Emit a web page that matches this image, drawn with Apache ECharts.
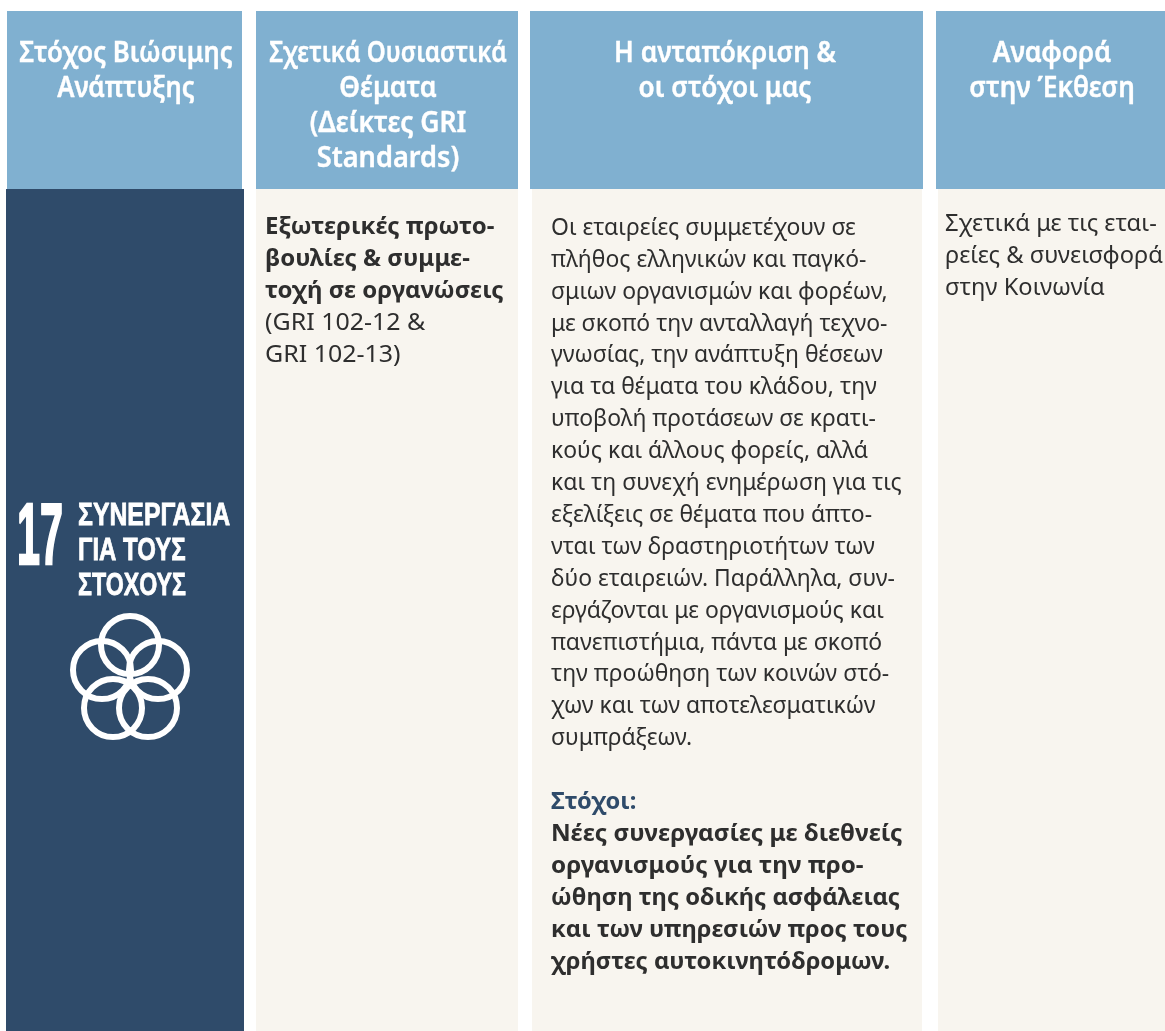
<!DOCTYPE html>
<html>
<head>
<meta charset="utf-8">
<style>html,body{margin:0;padding:0;background:#fff}#main{width:1165px;height:1031px}</style>
<script src="https://cdn.jsdelivr.net/npm/echarts@6/dist/echarts.min.js"></script>
</head>
<body>
<div id="main"></div>
<script>
var headCol1 = ['Στόχος Βιώσιμης', 'Ανάπτυξης'];
var headCol2 = ['Σχετικά Ουσιαστικά', 'Θέματα', '(Δείκτες GRI', 'Standards)'];
var headCol3 = ['Η ανταπόκριση &', 'οι στόχοι μας'];
var headCol4 = ['Αναφορά', 'στην Έκθεση'];
var sdgNumber = '17';
var sdgTitle = ['ΣΥΝΕΡΓΑΣΙΑ', 'ΓΙΑ ΤΟΥΣ', 'ΣΤΟΧΟΥΣ'];
var topicBold = ['Εξωτερικές πρωτο-', 'βουλίες & συμμε-', 'τοχή σε οργανώσεις'];
var topicNormal = ['(GRI 102-12 &', 'GRI 102-13)'];
var responseText = ['Οι εταιρείες συμμετέχουν σε', 'πλήθος ελληνικών και παγκό-', 'σμιων οργανισμών και φορέων,',
	'με σκοπό την ανταλλαγή τεχνο-', 'γνωσίας, την ανάπτυξη θέσεων', 'για τα θέματα του κλάδου, την',
	'υποβολή προτάσεων σε κρατι-', 'κούς και άλλους φορείς, αλλά', 'και τη συνεχή ενημέρωση για τις',
	'εξελίξεις σε θέματα που άπτο-', 'νται των δραστηριοτήτων των', 'δύο εταιρειών. Παράλληλα, συν-',
	'εργάζονται με οργανισμούς και', 'πανεπιστήμια, πάντα με σκοπό', 'την προώθηση των κοινών στό-',
	'χων και των αποτελεσματικών', 'συμπράξεων.'];
var goalsLabel = ['Στόχοι:'];
var goalsText = ['Νέες συνεργασίες με διεθνείς', 'οργανισμούς για την προ-', 'ώθηση της οδικής ασφάλειας',
	'και των υπηρεσιών προς τους', 'χρήστες αυτοκινητόδρομων.'];
var reportText = ['Σχετικά με τις εται-', 'ρείες & συνεισφορά', 'στην Κοινωνία'];

var headColor = '#80b0d0', darkColor = '#2f4b6a', paperColor = '#f8f5ef', inkColor = '#2e2e2e';
var sans = '"Noto Sans", sans-serif';
var narrow = '"Liberation Sans Narrow", "Liberation Sans", sans-serif';
var els = [];

function rect(x, y, w, h, fill) {
	els.push({ type: 'rect', shape: { x: x, y: y, width: w, height: h }, style: { fill: fill }, silent: true });
}
function lines(list, x, y, step, o) {
	list.forEach(function (t, i) {
		els.push({
			type: 'text', x: x, y: y + i * step, scaleX: o.sxs ? o.sxs[i] : (o.sx || 1), silent: true,
			style: {
				text: t, fill: o.color, font: (o.weight || 400) + ' ' + o.size + 'px ' + (o.family || sans),
				textAlign: o.align || 'left', textVerticalAlign: 'middle',
				stroke: o.bold ? o.color : null, lineWidth: o.bold || 0
			}
		});
	});
}
function ring(cx, cy) {
	els.push({ type: 'circle', shape: { cx: cx, cy: cy, r: 29 }, silent: true,
		style: { fill: 'none', stroke: '#fff', lineWidth: 6 } });
}

rect(7, 11, 235, 178, headColor);
rect(256, 11, 262, 178, headColor);
rect(530, 11, 393, 178, headColor);
rect(936, 11, 229, 178, headColor);
rect(6, 189, 238, 842, darkColor);
rect(256, 189, 262, 842, paperColor);
rect(532, 189, 390, 842, paperColor);
rect(938, 189, 227, 842, paperColor);

function head(list, x, sxs) {
	lines(list, x, 54, 35, { color: '#fff', size: 28, weight: 600, align: 'center', sxs: sxs, bold: 0.4 });
}
head(headCol1, 126, [0.918, 0.918]);
head(headCol2, 388, [0.861, 0.94, 0.945, 0.97]);
head(headCol3, 725, [0.934, 0.934]);
head(headCol4, 1052, [0.94, 0.94]);

lines([sdgNumber], 17, 540, 0, { color: '#fff', size: 87, weight: 700, family: narrow, sx: 0.475, bold: 2.5 });
lines(sdgTitle, 78, 516, 35, { color: '#fff', size: 32, weight: 700, family: narrow, sxs: [0.775, 0.75, 0.725], bold: 0.8 });
ring(130, 645); ring(102, 670); ring(158, 670); ring(113, 708); ring(148, 708);

lines(topicBold, 265, 227, 32, { color: inkColor, size: 24, weight: 700, sx: 1 });
lines(topicNormal, 265, 323, 32, { color: inkColor, size: 24, sx: 1.04 });
lines(responseText, 551, 228, 31.9, { color: inkColor, size: 24, sx: 0.955 });
lines(goalsLabel, 551, 802, 32, { color: darkColor, size: 24, weight: 700, sx: 0.985 });
lines(goalsText, 551, 834, 32, { color: inkColor, size: 24, weight: 700, sxs: [1.01, 1.01, 0.99, 0.988, 0.99] });
lines(reportText, 945, 224, 32, { color: inkColor, size: 24, sx: 0.985 });

var myChart = echarts.init(document.getElementById('main'), null, { renderer: 'canvas' });
myChart.setOption({ animation: false, backgroundColor: '#fff', graphic: { elements: els } });
</script>
</body>
</html>
